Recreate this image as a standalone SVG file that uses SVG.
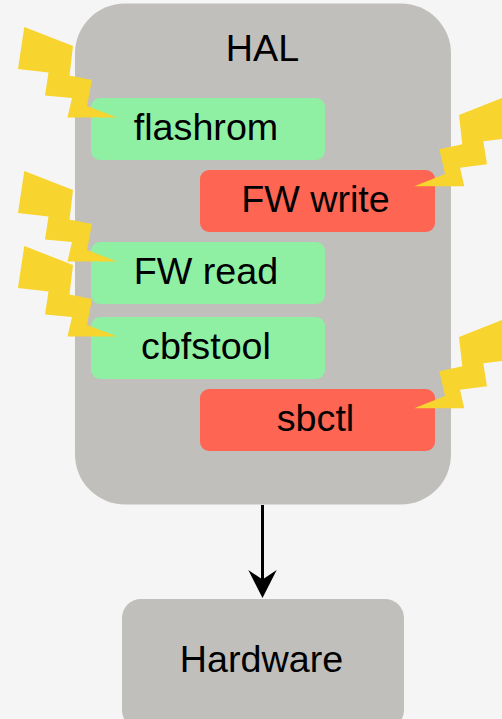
<svg xmlns="http://www.w3.org/2000/svg" width="502" height="719" viewBox="0 0 502 719">
<style>
text{font-family:"Liberation Sans",Arial,sans-serif;font-size:37.7px;fill:#000;text-anchor:middle}
.hal{fill:#c0bfbb}
.g{fill:#8ff0a4}
.r{fill:#ff6553}
.bolt{fill:#f8d42e}
</style>
<defs>
<polygon id="boltL" class="bolt" points="24.3,27 73,46 69.5,75.5 92,80 87,106 117,117.5 67.5,117.5 72,98 45,95.5 48.5,72.5 18,69"/>
<polygon id="boltR" class="bolt" points="502,98 459,115 462.3,144.3 439.3,149.3 445,174 414.3,186.3 464.3,186.3 460,167.7 487,164.3 483.3,141.3 502,139"/>
<marker id="arrow" markerUnits="userSpaceOnUse" markerWidth="30" markerHeight="30" refX="15" refY="15" orient="auto">
<path d="M0,0.8 L28,15 L0,29.2 L9.5,15 Z" fill="#000"/>
</marker>
</defs>
<rect width="502" height="719" fill="#f5f5f5"/>
<g id="hal"><rect class="hal" x="75" y="3.5" width="376" height="501" rx="50" ry="50"/><text x="262.500" y="61">HAL</text></g>
<g id="flashrom"><rect class="g" x="91" y="98" width="234" height="62" rx="9"/><text x="206" y="140">flashrom</text></g>
<g id="fw-write"><rect class="r" x="200" y="170" width="235" height="62" rx="9"/><text x="315.500" y="212">FW write</text></g>
<g id="fw-read"><rect class="g" x="91" y="242" width="234" height="62" rx="9"/><text x="206" y="284">FW read</text></g>
<g id="cbfstool"><rect class="g" x="91" y="317" width="234" height="62" rx="9"/><text x="206" y="359">cbfstool</text></g>
<g id="sbctl"><rect class="r" x="200" y="389" width="235" height="62" rx="9"/><text x="315.500" y="431">sbctl</text></g>
<g id="hardware"><rect class="hal" x="122" y="599" width="282" height="130" rx="19"/><text x="261.500" y="672">Hardware</text></g>
<g id="bolts">
<use href="#boltL"/>
<use href="#boltL" y="144"/>
<use href="#boltL" y="219"/>
<use href="#boltR"/>
<use href="#boltR" y="222"/>
</g>
<g id="connectors"><line x1="262.500" y1="505" x2="262.500" y2="585" stroke="#000" stroke-width="3" marker-end="url(#arrow)"/></g>
</svg>
